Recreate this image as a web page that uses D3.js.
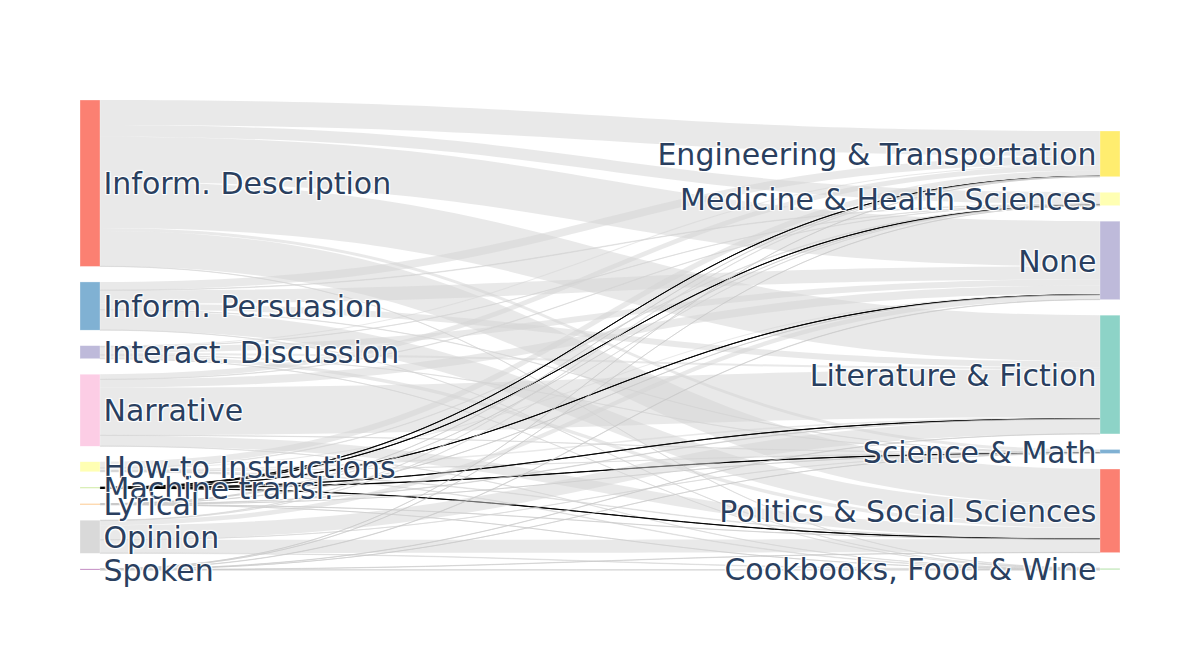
<!DOCTYPE html>
<html>
<head>
<meta charset="utf-8">
<script src="https://cdn.jsdelivr.net/npm/d3@7"></script>
<style>
  body { margin: 0; background: #fff; }
  svg text { font-family: "DejaVu Sans", sans-serif; }
</style>
</head>
<body>
<svg id="chart" width="1200" height="650"></svg>
<script>
// ---------------- DATA ----------------
const sourceNames = ["Inform. Description", "Inform. Persuasion", "Interact. Discussion", "Narrative",
  "How-to Instructions", "Machine transl.", "Lyrical", "Opinion", "Spoken"];
const targetNames = ["Engineering & Transportation", "Medicine & Health Sciences", "None",
  "Literature & Fiction", "Science & Math", "Politics & Social Sciences", "Cookbooks, Food & Wine"];

// flows from each source to the targets (same order as targetNames)
const fromInformDescription = [25, 11.5, 45, 46, 3, 35, 0.2];
const fromInformPersuasion  = [8, 0.5, 13, 6, 0.3, 20, 0.2];
const fromInteractDiscussion = [1, 0.2, 6, 2, 0.1, 3.6, 0.1];
const fromNarrative         = [5, 0.3, 8, 47.5, 0.2, 10.5, 0.2];
const fromHowTo             = [6, 0.4, 1, 1.5, 0.1, 0.5, 0.5];
const fromMachineTransl     = [0.15, 0.15, 0.15, 0.15, 0.15, 0.15, 0];
const fromLyrical           = [0.05, 0.05, 0.2, 0.4, 0.05, 0.2, 0.05];
const fromOpinion           = [0.3, 0.2, 4.5, 14.5, 0.1, 13, 0.4];
const fromSpoken            = [0.05, 0.05, 0.3, 0.2, 0.05, 0.3, 0.2];
const flowRows = [fromInformDescription, fromInformPersuasion, fromInteractDiscussion, fromNarrative,
  fromHowTo, fromMachineTransl, fromLyrical, fromOpinion, fromSpoken];

// ---------------- STYLE ----------------
const nodeColor = {
  "Inform. Description": "#fb8072", "Inform. Persuasion": "#80b1d3", "Interact. Discussion": "#bebada",
  "Narrative": "#fccde5", "How-to Instructions": "#ffffb3", "Machine transl.": "#b3de69",
  "Lyrical": "#fdb462", "Opinion": "#d9d9d9", "Spoken": "#bc80bd",
  "Engineering & Transportation": "#ffed6f", "Medicine & Health Sciences": "#ffffb3", "None": "#bebada",
  "Literature & Fiction": "#8dd3c7", "Science & Math": "#80b1d3", "Politics & Social Sciences": "#fb8072",
  "Cookbooks, Food & Wine": "#ccebc5"
};
function linkColor(src) {
  if (src === "Machine transl.") return "rgba(0,0,0,0.9)";
  if (src === "Lyrical" || src === "Spoken") return "rgba(200,200,200,0.55)";
  return "rgba(211,211,211,0.5)";
}

const W = 1200, H = 650;
const margin = { l: 80, r: 80, t: 100, b: 80 };
const nodeW = 20, pad = 15.5;
const Y0 = margin.t, Y1 = H - margin.b;

// ---------------- LAYOUT (sankey-style) ----------------
const nodes = [];
sourceNames.forEach((n, i) => nodes.push({ name: n, col: 0, idx: i, sourceLinks: [], targetLinks: [] }));
targetNames.forEach((n, i) => nodes.push({ name: n, col: 1, idx: i, sourceLinks: [], targetLinks: [] }));
const links = [];
flowRows.forEach((row, si) => row.forEach((v, ti) => {
  if (v > 0) {
    const l = { source: nodes[si], target: nodes[sourceNames.length + ti], value: v };
    links.push(l); l.source.sourceLinks.push(l); l.target.targetLinks.push(l);
  }
}));
nodes.forEach(n => n.value = Math.max(d3.sum(n.sourceLinks, l => l.value), d3.sum(n.targetLinks, l => l.value)));
const columns = [nodes.filter(n => n.col === 0), nodes.filter(n => n.col === 1)];

const xScale = d3.scaleLinear().domain([0, 1]).range([margin.l, W - margin.r - nodeW]);
const ky = d3.min(columns, c => (Y1 - Y0 - (c.length - 1) * pad) / d3.sum(c, n => n.value));
const kScale = d3.scaleLinear().domain([0, 1]).range([0, ky]);

nodes.forEach(n => { n.x0 = xScale(n.col); n.x1 = n.x0 + nodeW; });
columns.forEach(c => c.forEach((n, i) => { n.y0 = i; n.y1 = i + kScale(n.value); }));
const center = n => (n.y0 + n.y1) / 2;

function resolveCollisions() {
  columns.forEach(c => {
    let y = Y0, node, dy;
    for (let i = 0; i < c.length; i++) {
      node = c[i]; dy = y - node.y0;
      if (dy > 0) { node.y0 += dy; node.y1 += dy; }
      y = node.y1 + pad;
    }
    dy = y - pad - Y1;
    if (dy > 0) {
      y = (node.y0 -= dy); node.y1 -= dy;
      for (let i = c.length - 2; i >= 0; i--) {
        node = c[i]; dy = node.y1 + pad - y;
        if (dy > 0) { node.y0 -= dy; node.y1 -= dy; }
        y = node.y0;
      }
    }
  });
}
resolveCollisions();
let alpha = 1;
for (let it = 0; it < 32; it++) {
  alpha *= 0.99;
  columns[0].forEach(n => {
    const dy = (d3.sum(n.sourceLinks, l => center(l.target) * l.value) / d3.sum(n.sourceLinks, l => l.value) - center(n)) * alpha;
    n.y0 += dy; n.y1 += dy;
  });
  resolveCollisions();
  columns[1].forEach(n => {
    const dy = (d3.sum(n.targetLinks, l => center(l.source) * l.value) / d3.sum(n.targetLinks, l => l.value) - center(n)) * alpha;
    n.y0 += dy; n.y1 += dy;
  });
  resolveCollisions();
}
nodes.forEach(n => {
  n.sourceLinks.sort((a, b) => a.target.y0 - b.target.y0);
  n.targetLinks.sort((a, b) => a.source.y0 - b.source.y0);
});
nodes.forEach(n => {
  let y = n.y0;
  n.sourceLinks.forEach(l => { l.w = kScale(l.value); l.sy0 = y; y += l.w; });
  y = n.y0;
  n.targetLinks.forEach(l => { l.ty0 = y; y += l.w; });
});

// ---------------- DRAW ----------------
const svg = d3.select("#chart");
svg.append("rect").attr("width", W).attr("height", H).attr("fill", "#fff");

function bandPath(l) {
  const x0 = l.source.x1, x1 = l.target.x0, xm = (x0 + x1) / 2;
  const a0 = l.sy0, a1 = l.ty0, b0 = l.sy0 + l.w, b1 = l.ty0 + l.w;
  return `M${x0},${a0}C${xm},${a0} ${xm},${a1} ${x1},${a1}L${x1},${b1}C${xm},${b1} ${xm},${b0} ${x0},${b0}Z`;
}
svg.append("g").selectAll("path").data(links).join("path")
  .attr("d", bandPath)
  .attr("fill", l => linkColor(l.source.name))
  .attr("stroke", l => l.w < 1 ? linkColor(l.source.name) : "none")
  .attr("stroke-width", l => l.w < 1 ? 1 : 0);

svg.append("g").selectAll("rect").data(nodes).join("rect")
  .attr("x", n => n.x0).attr("y", n => n.y0)
  .attr("width", nodeW).attr("height", n => Math.max(0.5, n.y1 - n.y0))
  .attr("fill", n => nodeColor[n.name])
  .attr("stroke", "rgba(255,255,255,0.6)").attr("stroke-width", 0.5);

svg.append("g").selectAll("text").data(nodes).join("text")
  .attr("x", n => n.col === 0 ? n.x1 + 3.5 : n.x0 - 3.5)
  .attr("y", n => center(n))
  .attr("dy", "0.37em")
  .attr("text-anchor", n => n.col === 0 ? "start" : "end")
  .attr("font-size", 30)
  .attr("fill", "#2a3f5f")
  .style("text-shadow", "1px 1px 1px #fff, -1px -1px 1px #fff, 1px -1px 1px #fff, -1px 1px 1px #fff")
  .text(n => n.name);
</script>
</body>
</html>
